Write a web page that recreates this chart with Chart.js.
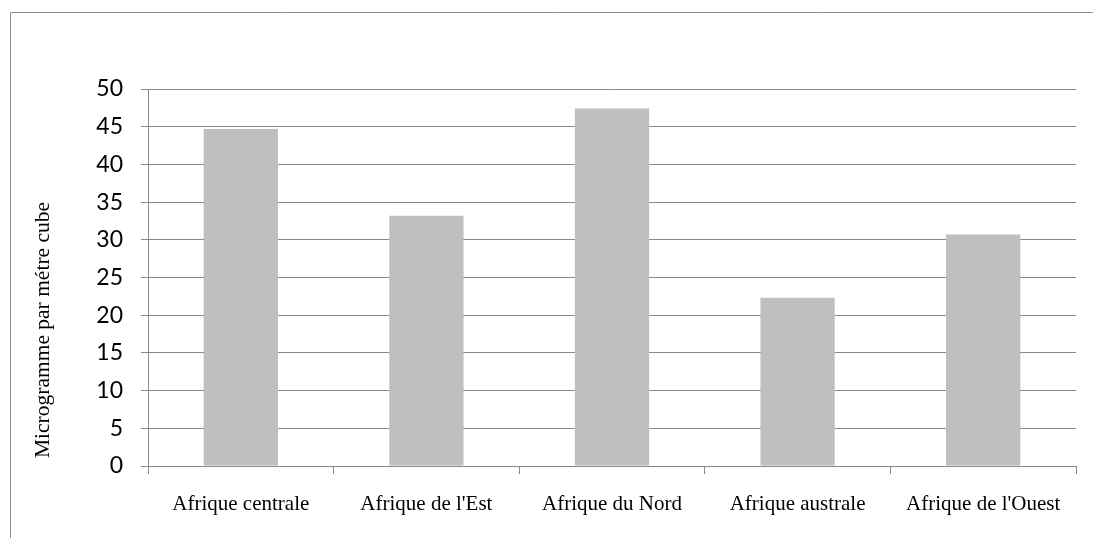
<!DOCTYPE html>
<html><head><meta charset="utf-8">
<script src="https://cdn.jsdelivr.net/npm/chart.js@4/dist/chart.umd.min.js"></script>
<style>html,body{margin:0;padding:0;background:#fff}#wrap{width:1093px;height:538px;position:relative}</style>
</head><body><div id="wrap"><canvas id="c" width="1093" height="538"></canvas></div>
<script>
const categories = ["Afrique centrale", "Afrique de l'Est", "Afrique du Nord", "Afrique australe", "Afrique de l'Ouest"];
const values = [44.7, 33.2, 47.4, 22.3, 30.7];
const yTicks = [0, 5, 10, 15, 20, 25, 30, 35, 40, 45, 50];
const yTitle = "Microgramme par métre cube";

const frame = {
  id: 'frame',
  beforeDraw(chart) {
    const ctx = chart.ctx;
    ctx.save();
    ctx.fillStyle = '#fff';
    ctx.fillRect(0, 0, chart.width, chart.height);
    ctx.strokeStyle = '#8c8c8c';
    ctx.lineWidth = 1;
    ctx.beginPath();
    ctx.moveTo(10.5, chart.height + 5);
    ctx.lineTo(10.5, 12.5);
    ctx.lineTo(chart.width + 5, 12.5);
    ctx.stroke();
    ctx.restore();
  },
  afterDraw(chart) {
    const ctx = chart.ctx;
    ctx.save();
    ctx.translate(43, 330);
    ctx.rotate(-Math.PI / 2);
    ctx.font = '21.5px "Liberation Serif", "Times New Roman", serif';
    ctx.fillStyle = '#000';
    ctx.textAlign = 'center';
    ctx.textBaseline = 'middle';
    ctx.fillText(yTitle, 0, 0);
    ctx.restore();
  }
};

new Chart(document.getElementById('c'), {
  type: 'bar',
  data: {
    labels: categories,
    datasets: [{
      data: values,
      backgroundColor: '#bfbfbf',
      borderWidth: 0,
      categoryPercentage: 1,
      barPercentage: 0.4
    }]
  },
  options: {
    responsive: false,
    animation: false,
    layout: { padding: { left: 0, top: 89, right: 17, bottom: 0 } },
    plugins: { legend: { display: false }, tooltip: { enabled: false } },
    scales: {
      x: {
        afterFit(s) { s.height = 72; },
        grid: { offset: true, drawOnChartArea: false, drawTicks: true, tickLength: 8, color: '#898989' },
        border: { color: '#898989' },
        ticks: { color: '#000', padding: 18, maxRotation: 0, autoSkip: false,
          font: { family: '"Liberation Serif", "Times New Roman", serif', size: 21 } }
      },
      y: {
        min: 0, max: 50,
        afterFit(s) { s.width = 148; },
        afterBuildTicks(s) { s.ticks = yTicks.map(v => ({ value: v })); },
        grid: { color: '#898989', tickLength: 7, drawTicks: true },
        border: { color: '#898989' },
        ticks: { color: '#000', padding: 18,
          font: { family: 'Lato, "Open Sans", sans-serif', size: 23 } }
      }
    }
  },
  plugins: [frame]
});
</script></body></html>
